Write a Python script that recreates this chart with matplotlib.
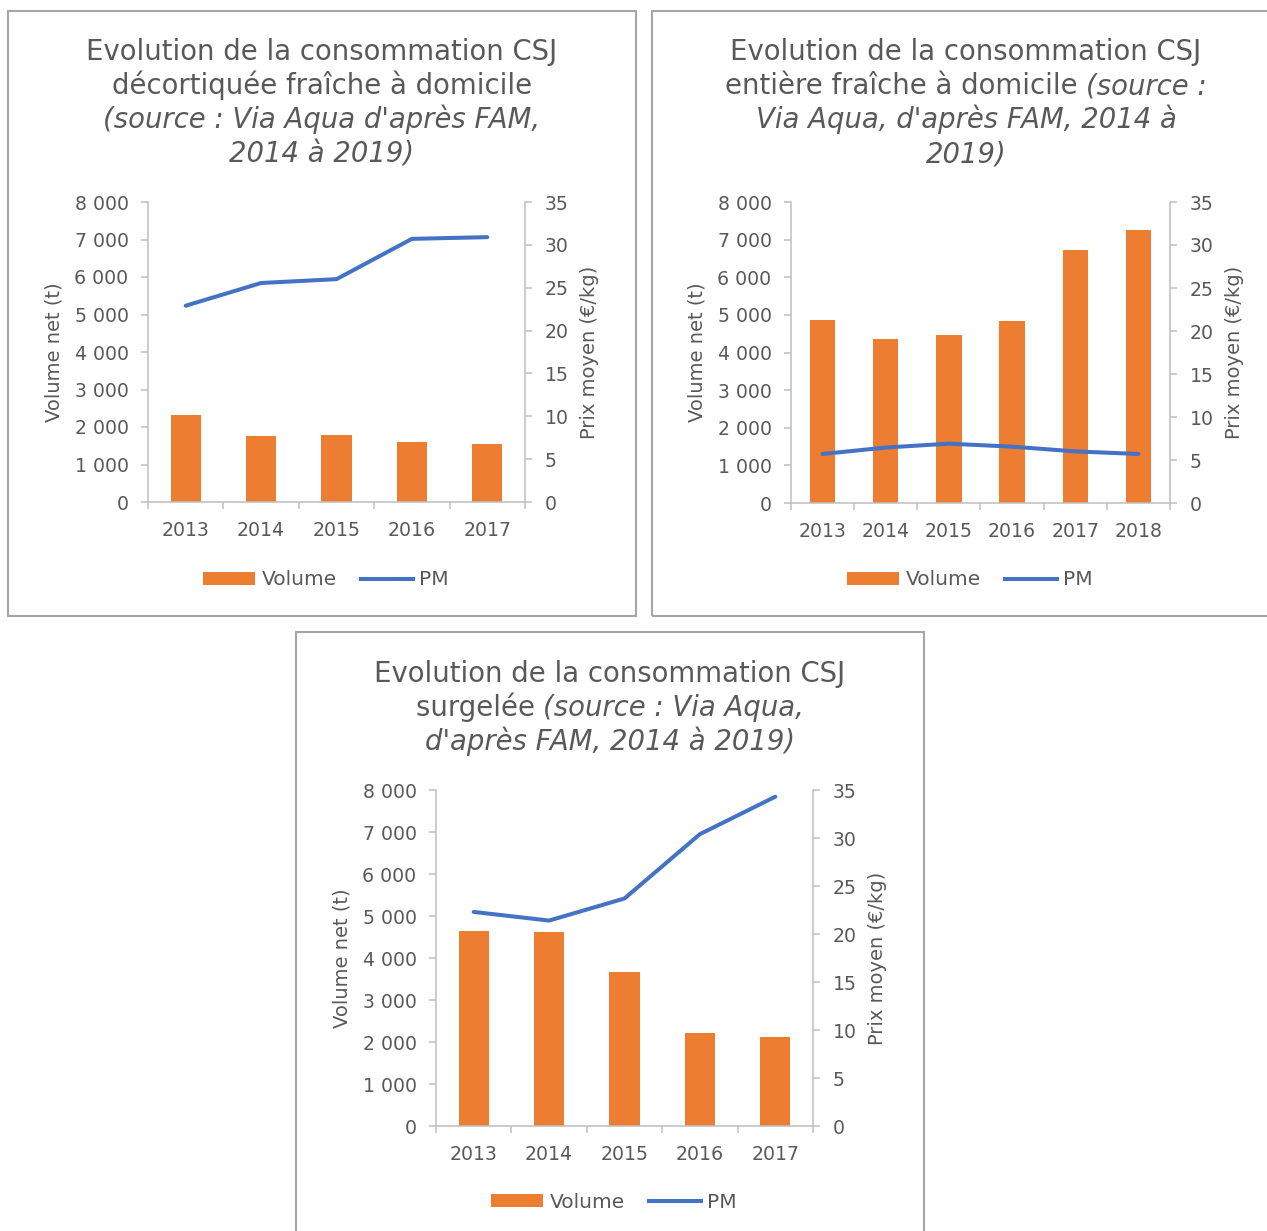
import matplotlib.pyplot as plt
import numpy as np
from matplotlib.patches import Rectangle, Patch
from matplotlib.lines import Line2D
from matplotlib.ticker import FuncFormatter

# data
years_a = ["2013", "2014", "2015", "2016", "2017"]
volume_a = [2330, 1760, 1787, 1595, 1547]
pm_a = [22.9, 25.55, 26.0, 30.7, 30.9]

years_b = ["2013", "2014", "2015", "2016", "2017", "2018"]
volume_b = [4865, 4360, 4455, 4840, 6716, 7252]
pm_b = [5.7, 6.45, 6.9, 6.55, 6.0, 5.7]

years_c = ["2013", "2014", "2015", "2016", "2017"]
volume_c = [4638, 4610, 3660, 2219, 2119]
pm_c = [22.3, 21.4, 23.7, 30.4, 34.3]

titles = [
    [[("Evolution de la consommation CSJ", "normal")],
     [("décortiquée fraîche à domicile", "normal")],
     [("(source : Via Aqua d'après FAM,", "italic")],
     [("2014 à 2019)", "italic")]],
    [[("Evolution de la consommation CSJ", "normal")],
     [("entière fraîche à domicile ", "normal"), ("(source :", "italic")],
     [("Via Aqua, d'après FAM, 2014 à", "italic")],
     [("2019)", "italic")]],
    [[("Evolution de la consommation CSJ", "normal")],
     [("surgelée ", "normal"), ("(source : Via Aqua,", "italic")],
     [("d'après FAM, 2014 à 2019)", "italic")]],
]

ORANGE = "#ED7D31"
BLUE = "#4472C4"
GRID = "#BFBFBF"
TXT = "#595959"
W, H = 1267, 1231

plt.rcParams["font.family"] = "DejaVu Sans"
fig = plt.figure(figsize=(W / 100, H / 100), dpi=100)


def fx(x):
    return x / W


def fy(y):
    return 1 - y / H


# panel frames
for (x0, y0, x1, y1) in [(8, 11, 636, 616), (652, 11, 1275, 616), (296, 632, 924, 1240)]:
    fig.patches.append(Rectangle((fx(x0), fy(y1)), fx(x1 - x0), (y1 - y0) / H,
                                 transform=fig.transFigure, fill=False,
                                 edgecolor="#A6A6A6", linewidth=1.5))

thousands = FuncFormatter(lambda v, p: f"{int(v):,}".replace(",", " "))


def panel(box, years, vol, pm, title, tcx, tby, legc):
    left, right, top, bottom = box
    ax = fig.add_axes([fx(left), fy(bottom), fx(right - left), (bottom - top) / H])
    x = np.arange(len(years))
    ax.bar(x, vol, width=0.4, color=ORANGE, zorder=2)
    ax.set_xlim(-0.5, len(years) - 0.5)
    ax.set_ylim(0, 8000)
    ax.set_yticks(np.arange(0, 8001, 1000))
    ax.yaxis.set_major_formatter(thousands)
    ax.set_xticks(x)
    ax.set_xticklabels(years)
    ax.set_xticks(np.arange(-0.5, len(years), 1), minor=True)
    ax.tick_params(axis="x", which="major", length=0, pad=14, labelsize=13.6, labelcolor=TXT)
    ax.tick_params(axis="x", which="minor", length=5, width=1.1, color=GRID, direction="out")
    ax.tick_params(axis="y", length=5, width=1.1, color=GRID, pad=9, labelsize=13.6, labelcolor=TXT)
    for s in ["top", "right"]:
        ax.spines[s].set_visible(False)
    for s in ["left", "bottom"]:
        ax.spines[s].set_color(GRID)
        ax.spines[s].set_linewidth(1.1)
    ax.set_ylabel("Volume net (t)", fontsize=14, color=TXT, labelpad=8)

    ax2 = ax.twinx()
    ax2.plot(x, pm, color=BLUE, linewidth=2.9, solid_capstyle="round", zorder=3)
    ax2.set_ylim(0, 35)
    ax2.set_yticks(np.arange(0, 36, 5))
    ax2.tick_params(axis="y", length=5, width=1.1, color=GRID, pad=9, labelsize=13.6, labelcolor=TXT)
    for s in ["top", "left", "bottom"]:
        ax2.spines[s].set_visible(False)
    ax2.spines["right"].set_color(GRID)
    ax2.spines["right"].set_linewidth(1.1)
    ax2.set_ylabel("Prix moyen (€/kg)", fontsize=14, color=TXT, labelpad=8)

    handles = [Patch(facecolor=ORANGE, edgecolor="none"),
               Line2D([], [], color=BLUE, linewidth=2.9)]
    fig.legend(handles, ["Volume", "PM"], loc="center",
               bbox_to_anchor=(fx(legc[0]), fy(legc[1])), ncol=2, frameon=False,
               fontsize=14.5, labelcolor=TXT, handlelength=2.6, handleheight=0.65,
               handletextpad=0.3, columnspacing=1.2)

    # title lines with mixed normal / italic parts
    for i, parts in enumerate(title):
        y = fy(tby + 34 * i)
        texts = []
        for s, style in parts:
            texts.append(fig.text(0, y, s, fontsize=19.8, style=style, color=TXT,
                                  ha="left", va="baseline"))
        title_lines.append((texts, tcx))


title_lines = []
panel((148, 525, 202, 502), years_a, volume_a, pm_a, titles[0], 322, 60, (326, 580))
panel((791, 1170, 202, 503), years_b, volume_b, pm_b, titles[1], 966, 60, (970, 580))
panel((436, 813, 790, 1126), years_c, volume_c, pm_c, titles[2], 610, 682, (614, 1202))

# center each title line horizontally
fig.canvas.draw()
r = fig.canvas.get_renderer()
for texts, cx in title_lines:
    widths = [t.get_window_extent(r).width for t in texts]
    x = cx - sum(widths) / 2
    for t, w in zip(texts, widths):
        t.set_x(fx(x))
        x += w

fig.savefig("out.png", dpi=100)
